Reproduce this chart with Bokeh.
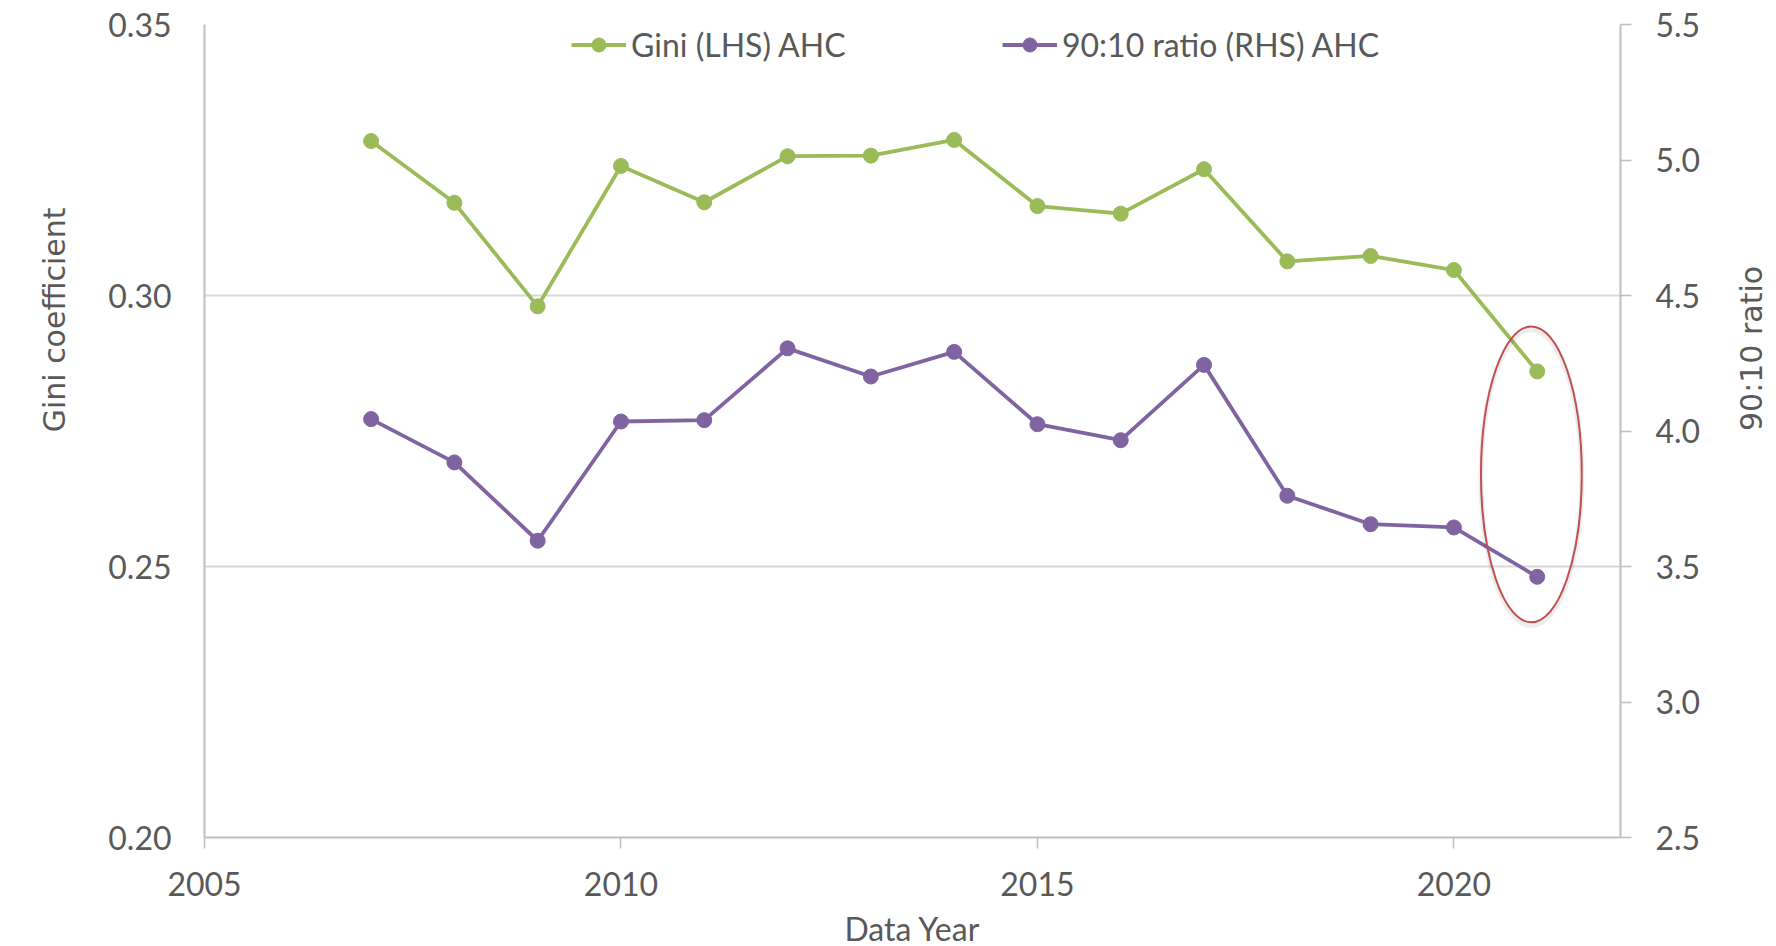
import math
from bokeh.plotting import figure
from bokeh.models import (Range1d, LinearAxis, FixedTicker, Legend, LegendItem,
                          PrintfTickFormatter, Title)
from bokeh.embed import file_html
from bokeh.resources import INLINE

# ---- data ----
years = [2007, 2008, 2009, 2010, 2011, 2012, 2013, 2014, 2015, 2016, 2017, 2018, 2019, 2020, 2021]
gini = [0.3285, 0.3171, 0.2980, 0.3239, 0.3172, 0.3257, 0.3258, 0.3287, 0.3165, 0.3151,
        0.3233, 0.3063, 0.3073, 0.3047, 0.2860]
ratio_90_10 = [4.044, 3.884, 3.595, 4.035, 4.040, 4.305, 4.201, 4.292, 4.025, 3.966,
               4.244, 3.761, 3.656, 3.644, 3.462]
x_ticks = [2005, 2010, 2015, 2020]
gini_ticks = [0.20, 0.25, 0.30, 0.35]
ratio_ticks = [2.5, 3.0, 3.5, 4.0, 4.5, 5.0, 5.5]
gini_label = "Gini (LHS) AHC"
ratio_label = "90:10 ratio (RHS) AHC"
x_title = "Data Year"
left_title = "Gini coefficient"
right_title = "90:10 ratio"
x_start, x_end = 2005, 2022

# highlight ellipse around the latest year (in Gini-axis units)
ell_x, ell_y, ell_w, ell_h = 2020.93, 0.2670, 1.21, 0.0546

GREEN = "#9BBB59"
PURPLE = "#8064A2"
RED = "#C0504D"
TXT = "#595959"
AX = "#BFBFBF"
GRID = "#D9D9D9"
FONT = "Lato"
FS = "32px"

p = figure(frame_width=1416, frame_height=813,
           min_border_left=204, min_border_right=156, min_border_top=24, min_border_bottom=105,
           x_range=Range1d(x_start, x_end), y_range=Range1d(0.20, 0.35),
           output_backend="svg", toolbar_location=None)
p.extra_y_ranges = {"ratio": Range1d(2.5, 5.5)}
p.outline_line_color = None
p.background_fill_color = "white"
p.border_fill_color = "white"

p.xgrid.visible = False
p.ygrid.ticker = FixedTicker(ticks=gini_ticks)
p.ygrid.grid_line_color = GRID
p.ygrid.grid_line_width = 2

# bottom axis
xa = p.xaxis[0]
xa.ticker = FixedTicker(ticks=x_ticks)
xa.formatter = PrintfTickFormatter(format="%d")
xa.axis_line_color = AX
xa.axis_line_width = 2
xa.major_tick_line_color = AX
xa.major_tick_line_width = 1.5
xa.major_tick_out = 11
xa.major_tick_in = 0
xa.minor_tick_line_color = None
xa.major_label_text_font = FONT
xa.major_label_text_font_size = FS
xa.major_label_text_color = TXT
xa.major_label_standoff = 23
xa.axis_label = x_title
xa.axis_label_text_font = FONT
xa.axis_label_text_font_size = FS
xa.axis_label_text_font_style = "normal"
xa.axis_label_text_color = TXT
xa.axis_label_standoff = 10

# left axis
ya = p.yaxis[0]
ya.ticker = FixedTicker(ticks=gini_ticks)
ya.formatter = PrintfTickFormatter(format="%.2f")
ya.axis_line_color = AX
ya.axis_line_width = 2
ya.major_tick_line_color = None
ya.major_tick_out = 0
ya.major_tick_in = 0
ya.minor_tick_line_color = None
ya.major_label_text_font = FONT
ya.major_label_text_font_size = FS
ya.major_label_text_color = TXT
ya.major_label_standoff = 33

# left title: its top end sits a fixed distance below the top of the frame, like the reference
lt = Title(text=left_title, align="right", vertical_align="top", offset=183, standoff=64,
           text_font="DejaVu Sans", text_font_size="30px", text_font_style="normal",
           text_color=TXT)
p.add_layout(lt, "left")

# right axis
ra = LinearAxis(y_range_name="ratio")
ra.ticker = FixedTicker(ticks=ratio_ticks)
ra.formatter = PrintfTickFormatter(format="%.1f")
ra.axis_line_color = AX
ra.axis_line_width = 2
ra.major_tick_line_color = AX
ra.major_tick_line_width = 1.5
ra.major_tick_out = 11
ra.major_tick_in = 0
ra.minor_tick_line_color = None
ra.major_label_text_font = FONT
ra.major_label_text_font_size = FS
ra.major_label_text_color = TXT
ra.major_label_standoff = 24
ra.axis_label = right_title
ra.axis_label_orientation = math.pi / 2
ra.axis_label_text_font = "DejaVu Sans"
ra.axis_label_text_font_size = "30px"
ra.axis_label_text_font_style = "normal"
ra.axis_label_text_color = TXT
ra.axis_label_standoff = 48
p.add_layout(ra, "right")

# series
g_line = p.line(years, gini, line_color=GREEN, line_width=3.8)
g_pts = p.scatter(years, gini, size=15, fill_color=GREEN, line_color=GREEN)
r_line = p.line(years, ratio_90_10, line_color=PURPLE, line_width=3.8, y_range_name="ratio")
r_pts = p.scatter(years, ratio_90_10, size=15, fill_color=PURPLE, line_color=PURPLE,
                  y_range_name="ratio")

# highlight ellipse (with faint shadow)
p.ellipse(x=[ell_x], y=[ell_y - 0.0006], width=ell_w, height=ell_h, fill_color=None,
          line_color="#000000", line_alpha=0.07, line_width=5)
p.ellipse(x=[ell_x], y=[ell_y], width=ell_w, height=ell_h, fill_color=None,
          line_color=RED, line_width=2)


def make_legend(label, rends, loc):
    lg = Legend(items=[LegendItem(label=label, renderers=rends)], location=loc,
                orientation="horizontal")
    lg.border_line_color = None
    lg.background_fill_alpha = 0
    lg.padding = 0
    lg.margin = 0
    lg.glyph_width = 55
    lg.glyph_height = 35
    lg.label_height = 35
    lg.label_standoff = 5
    lg.label_text_font = FONT
    lg.label_text_font_size = FS
    lg.label_text_color = TXT
    lg.label_text_baseline = "middle"
    return lg


p.add_layout(make_legend(gini_label, [g_line, g_pts], (367, 773)))
p.add_layout(make_legend(ratio_label, [r_line, r_pts], (798, 773)))

open("out.html", "w").write(file_html(p, INLINE))
